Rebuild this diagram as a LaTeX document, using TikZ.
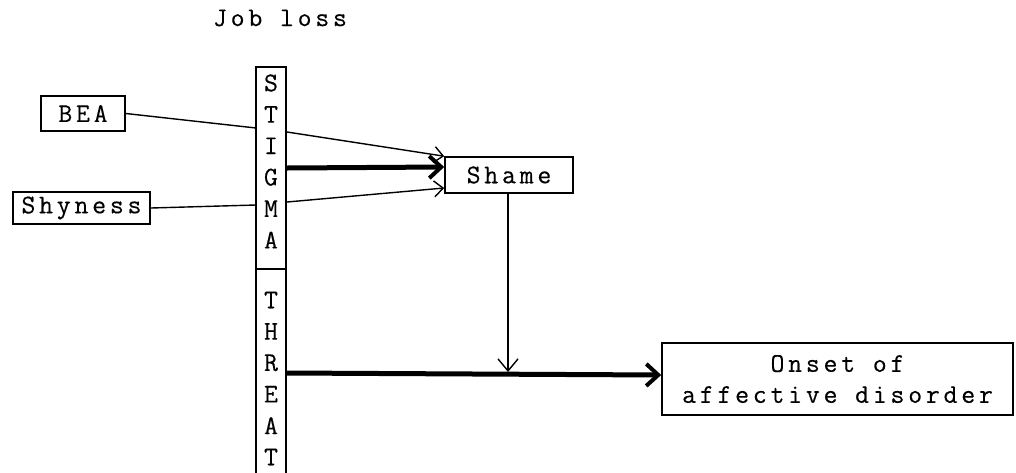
\documentclass[tikz,border=0pt]{standalone}
\usepackage{fontspec}
\setmonofont{Latin Modern Mono}[LetterSpace=14,FakeBold=0.3]
\usetikzlibrary{arrows.meta}
\tikzset{
  lbl/.style={font=\ttfamily\fontsize{27}{31}\selectfont, inner sep=0pt},
  boxnode/.style={draw, line width=1.6pt, lbl, align=center},
  letter/.style={lbl},
  thin/.style={line width=1.4pt},
  thinarr/.style={thin, -{Straight Barb[length=9pt,width=16pt,line width=1.4pt]}},
  thickarr/.style={line width=5pt, -{Straight Barb[length=12pt,width=22pt,line width=4pt]}},
}
\begin{document}
\begin{tikzpicture}[x=1pt,y=-1pt]
\useasboundingbox (0,0) rectangle (1016,472);
\fill[white] (0,0) rectangle (1016,472);

\node[lbl] (job) at (280,18) {Job loss};
\node[boxnode, minimum width=84pt, minimum height=35pt] (bea) at (83,113.5) {BEA};
\node[boxnode, minimum width=137pt, minimum height=32pt] (shy) at (81.5,208) {Shyness};
\node[boxnode, minimum width=128pt, minimum height=36pt] (shame) at (509,175) {Shame};
\node[boxnode, minimum width=351pt, minimum height=72pt] (onset) at (837.5,379) {Onset of\\affective disorder};

\node[draw, line width=1.6pt, minimum width=30pt, minimum height=202pt, inner sep=0pt] (stig) at (271,168) {};
\node[minimum width=30pt, minimum height=210pt, inner sep=0pt] (threat) at (271,374) {};
\draw[line width=1.6pt] (threat.south west) -- (threat.north west) -- (threat.north east) -- (threat.south east);

\foreach \ch [count=\i from 0] in {S,T,I,G,M,A}
  \node[letter] (s\i) at (271,83+31.4*\i) {\ch};
\foreach \ch [count=\i from 0] in {T,H,R,E,A,T}
  \node[letter] (t\i) at (271,300+31.4*\i) {\ch};

\coordinate (beaL) at (256,128);
\coordinate (beaR) at (287,132);
\coordinate (shyL) at (256,205);
\coordinate (shyR) at (287,202);
\coordinate (stR) at (287,168);
\coordinate (thR) at (287,373);
\coordinate (meet) at (508,372);

\draw[thin] (bea.east) -- (beaL);
\draw[thinarr] (beaR) -- (shame.north west);
\draw[thin] (shy.east) -- (shyL);
\draw[thinarr] (shyR) -- ([yshift=-13pt]shame.west);
\draw[thickarr] (stR) -- ([yshift=8pt]shame.west);

\draw[thin, -{Straight Barb[length=12pt,width=20pt,line width=1.4pt]}] (shame.south -| meet) -- (meet);
\draw[thickarr] (thR) -- ([yshift=4pt]onset.west);
\end{tikzpicture}
\end{document}
